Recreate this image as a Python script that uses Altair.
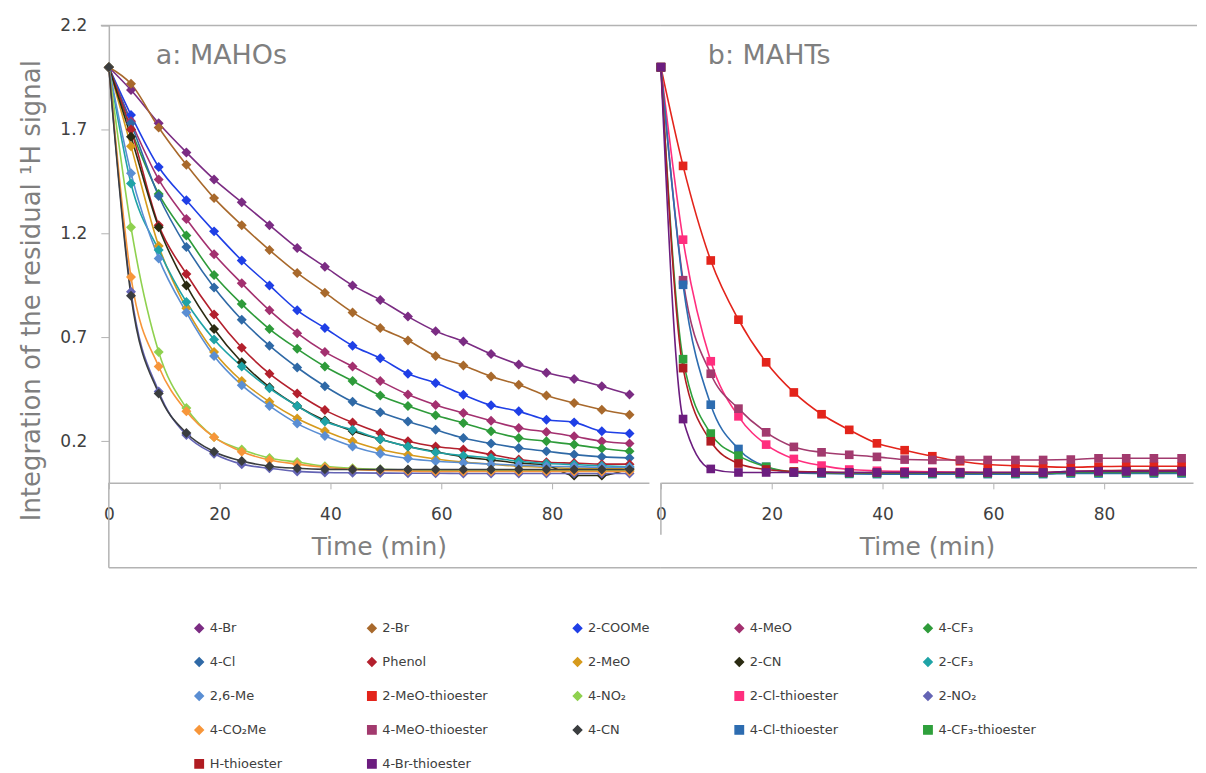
import altair as alt
import pandas as pd

# ---------------- data ----------------
time_min = [0, 4, 9, 14, 19, 24, 29, 34, 39, 44, 49, 54, 59, 64, 69, 74, 79, 84, 89, 94]

br4 = [2.0, 1.89, 1.73, 1.59, 1.46, 1.35, 1.24, 1.13, 1.04, 0.95, 0.88, 0.80, 0.73, 0.68, 0.62, 0.57, 0.53, 0.50, 0.465, 0.425]
br2 = [2.0, 1.92, 1.71, 1.53, 1.37, 1.24, 1.12, 1.01, 0.915, 0.82, 0.745, 0.685, 0.61, 0.565, 0.512, 0.472, 0.42, 0.384, 0.352, 0.328]
coome2 = [2.0, 1.77, 1.52, 1.36, 1.21, 1.07, 0.95, 0.83, 0.745, 0.66, 0.60, 0.525, 0.48, 0.424, 0.373, 0.344, 0.304, 0.291, 0.248, 0.237]
meo4 = [2.0, 1.74, 1.46, 1.27, 1.10, 0.96, 0.83, 0.72, 0.63, 0.56, 0.49, 0.425, 0.375, 0.336, 0.299, 0.264, 0.245, 0.224, 0.20, 0.189]
cf3_4 = [2.0, 1.70, 1.39, 1.19, 1.00, 0.86, 0.74, 0.645, 0.56, 0.49, 0.42, 0.37, 0.325, 0.288, 0.248, 0.216, 0.20, 0.184, 0.165, 0.152]
cl4 = [2.0, 1.73, 1.38, 1.135, 0.94, 0.785, 0.66, 0.555, 0.465, 0.39, 0.34, 0.295, 0.255, 0.216, 0.189, 0.168, 0.152, 0.136, 0.125, 0.12]
phenol = [2.0, 1.70, 1.24, 1.005, 0.81, 0.65, 0.525, 0.43, 0.35, 0.29, 0.24, 0.20, 0.175, 0.16, 0.136, 0.112, 0.099, 0.095, 0.09, 0.09]
meo2 = [2.0, 1.62, 1.14, 0.84, 0.63, 0.49, 0.39, 0.31, 0.25, 0.20, 0.16, 0.135, 0.115, 0.10, 0.09, 0.08, 0.075, 0.07, 0.07, 0.065]
cn2 = [2.0, 1.665, 1.23, 0.95, 0.74, 0.58, 0.46, 0.37, 0.30, 0.25, 0.21, 0.175, 0.15, 0.125, 0.11, 0.095, 0.085, 0.035, 0.035, 0.07]
cf3_2 = [2.0, 1.44, 1.12, 0.87, 0.69, 0.56, 0.455, 0.37, 0.295, 0.255, 0.21, 0.175, 0.147, 0.131, 0.12, 0.104, 0.093, 0.088, 0.082, 0.077]
me26 = [2.0, 1.49, 1.08, 0.82, 0.61, 0.47, 0.37, 0.285, 0.225, 0.175, 0.14, 0.117, 0.104, 0.097, 0.09, 0.085, 0.08, 0.078, 0.075, 0.075]
no2_4 = [2.0, 1.23, 0.63, 0.36, 0.22, 0.16, 0.12, 0.10, 0.08, 0.07, 0.065, 0.062, 0.06, 0.06, 0.06, 0.058, 0.058, 0.058, 0.058, 0.058]
no2_2 = [2.0, 0.92, 0.44, 0.23, 0.14, 0.09, 0.07, 0.055, 0.05, 0.048, 0.047, 0.046, 0.046, 0.045, 0.045, 0.045, 0.045, 0.045, 0.045, 0.045]
co2me4 = [2.0, 0.99, 0.56, 0.345, 0.22, 0.15, 0.11, 0.09, 0.075, 0.065, 0.06, 0.057, 0.055, 0.055, 0.055, 0.055, 0.055, 0.055, 0.055, 0.055]
cn4 = [2.0, 0.90, 0.43, 0.24, 0.15, 0.105, 0.08, 0.07, 0.065, 0.064, 0.064, 0.064, 0.064, 0.064, 0.064, 0.064, 0.064, 0.064, 0.064, 0.064]

meo2_t = [2.0, 1.525, 1.07, 0.785, 0.58, 0.435, 0.33, 0.255, 0.19, 0.157, 0.128, 0.104, 0.088, 0.082, 0.078, 0.075, 0.078, 0.08, 0.08, 0.08]
cl2_t = [2.0, 1.17, 0.585, 0.32, 0.184, 0.115, 0.083, 0.064, 0.058, 0.055, 0.053, 0.052, 0.05, 0.05, 0.05, 0.05, 0.052, 0.055, 0.058, 0.06]
meo4_t = [2.0, 0.975, 0.525, 0.357, 0.243, 0.173, 0.147, 0.135, 0.125, 0.112, 0.11, 0.11, 0.11, 0.11, 0.11, 0.112, 0.118, 0.118, 0.118, 0.118]
cl4_t = [2.0, 0.953, 0.376, 0.163, 0.077, 0.049, 0.045, 0.043, 0.042, 0.042, 0.042, 0.042, 0.042, 0.042, 0.042, 0.045, 0.045, 0.045, 0.045, 0.045]
cf3_4_t = [2.0, 0.595, 0.237, 0.131, 0.077, 0.052, 0.048, 0.046, 0.046, 0.046, 0.046, 0.046, 0.046, 0.046, 0.046, 0.05, 0.05, 0.05, 0.05, 0.05]
h_t = [2.0, 0.552, 0.20, 0.093, 0.064, 0.055, 0.052, 0.05, 0.05, 0.05, 0.05, 0.05, 0.05, 0.05, 0.05, 0.055, 0.058, 0.06, 0.06, 0.06]
br4_t = [2.0, 0.307, 0.067, 0.05, 0.05, 0.05, 0.05, 0.05, 0.05, 0.05, 0.05, 0.05, 0.05, 0.05, 0.05, 0.055, 0.055, 0.055, 0.055, 0.055]

# legend order (row by row, 5 columns)
series_names = [
    "4-Br", "2-Br", "2-COOMe", "4-MeO", "4-CF₃",
    "4-Cl", "Phenol", "2-MeO", "2-CN", "2-CF₃",
    "2,6-Me", "2-MeO-thioester", "4-NO₂", "2-Cl-thioester", "2-NO₂",
    "4-CO₂Me", "4-MeO-thioester", "4-CN", "4-Cl-thioester", "4-CF₃-thioester",
    "H-thioester", "4-Br-thioester",
]
series_values = [
    br4, br2, coome2, meo4, cf3_4,
    cl4, phenol, meo2, cn2, cf3_2,
    me26, meo2_t, no2_4, cl2_t, no2_2,
    co2me4, meo4_t, cn4, cl4_t, cf3_4_t,
    h_t, br4_t,
]
series_colors = [
    "#7B2C83", "#A8692C", "#1F3FE6", "#A3306F", "#2E9B3A",
    "#2F69A6", "#B3202D", "#D69A1C", "#2B2B12", "#1FA3A6",
    "#5A8ED3", "#E3241B", "#8FD14F", "#FF2E7E", "#6464B4",
    "#F7963A", "#A23A6E", "#3A3D3F", "#2D6CB0", "#2FA03C",
    "#B01C22", "#6C1D7F",
]
series_shapes = ["square" if "thioester" in n else "diamond" for n in series_names]

panel_labels = ["a: MAHOs", "b: MAHTs"]
x_ticks = [0, 20, 40, 60, 80]
y_ticks = [0.2, 0.7, 1.2, 1.7, 2.2]

rows = []
for name, vals in zip(series_names, series_values):
    grp = "MAHT" if "thioester" in name else "MAHO"
    for t, v in zip(time_min, vals):
        rows.append({"series": name, "time": t, "value": v, "panel": grp})
df = pd.DataFrame(rows)

# ---------------- styling ----------------
AXIS_GREY = "#b3b3b3"
TITLE_GREY = "#7f7f7f"
LABEL_COL = "#404040"
FONT = "DejaVu Sans"
LEG_FONT = "DejaVu Sans"

H = 458
W_L, W_R = 541, 533
PX_PER_MIN = W_L / 97.5

color_scale = alt.Scale(domain=series_names, range=series_colors)
shape_scale = alt.Scale(domain=series_names, range=series_shapes)

legend = alt.Legend(
    title=None, orient="none", legendX=84, legendY=597, columns=5,
    direction="horizontal", gridAlign="each", columnPadding=82, rowPadding=19,
    symbolSize=70, labelFont=LEG_FONT, labelFontSize=13,
    labelColor=LABEL_COL, labelLimit=250, labelOffset=4,
)


def panel(grp, width, label, show_y, pt_size):
    d = df[df.panel == grp]
    xmax = width / PX_PER_MIN
    x = alt.X(
        "time:Q",
        scale=alt.Scale(domain=[0, xmax], nice=False, zero=False),
        axis=alt.Axis(
            values=x_ticks, title="Time (min)", grid=False, format="d",
            domainColor=AXIS_GREY, domainWidth=1.5, tickColor=AXIS_GREY, tickSize=6,
            labelFont=FONT, labelFontSize=17, labelColor=LABEL_COL, labelPadding=18,
            labelFlush=False, titleFont=FONT, titleFontSize=25, titleFontWeight="normal",
            titleColor=TITLE_GREY, titlePadding=12,
        ),
    )
    if show_y:
        y_axis = alt.Axis(
            values=y_ticks, format=".1f", grid=False,
            title="Integration of the residual ¹H signal",
            domainColor=AXIS_GREY, domainWidth=1.5, tickColor=AXIS_GREY, tickSize=8,
            labelFont=FONT, labelFontSize=17, labelColor=LABEL_COL, labelPadding=14,
            titleFont=FONT, titleFontSize=26, titleFontWeight="normal",
            titleColor=TITLE_GREY, titlePadding=15, titleY=265,
        )
    else:
        y_axis = None
    y = alt.Y("value:Q", scale=alt.Scale(domain=[0, 2.2], nice=False), axis=y_axis)

    lines = alt.Chart(d).mark_line(interpolate="monotone", strokeWidth=1.6).encode(
        x=x, y=y,
        color=alt.Color("series:N", scale=color_scale, legend=legend),
        detail="series:N",
    )
    pts = alt.Chart(d).mark_point(filled=True, size=pt_size, opacity=1).encode(
        x=x, y=y,
        color=alt.Color("series:N", scale=color_scale, legend=legend),
        shape=alt.Shape("series:N", scale=shape_scale, legend=legend),
    )

    one = alt.Data(values=[{"label": label}])
    frame = alt.Chart(one).mark_rule(color=AXIS_GREY, strokeWidth=1.5)
    ext = 12 if show_y else 4
    start = -8 if show_y else 0
    top = frame.encode(x=alt.value(start), x2=alt.value(width + ext), y=alt.value(0))
    bottom = frame.encode(x=alt.value(0), x2=alt.value(width + ext), y=alt.value(543))
    vdown = frame.encode(x=alt.value(0), y=alt.value(H), y2=alt.value(543 if show_y else 510))
    txt = alt.Chart(one).mark_text(
        align="left", baseline="middle", font=FONT, fontSize=27, color=TITLE_GREY
    ).encode(x=alt.value(47), y=alt.value(30), text="label:N")

    return alt.layer(top, bottom, vdown, lines, pts, txt).properties(width=width, height=H)


left = panel("MAHO", W_L, panel_labels[0], True, 100)
right = panel("MAHT", W_R, panel_labels[1], False, 75)

chart = (
    alt.hconcat(left, right, spacing=12, bounds="flush")
    .properties(padding={"left": 10, "top": 8, "right": 0, "bottom": 5})
    .configure_view(stroke=None)
)

chart.save("out.html", embed_options={"renderer": "svg", "actions": False})
